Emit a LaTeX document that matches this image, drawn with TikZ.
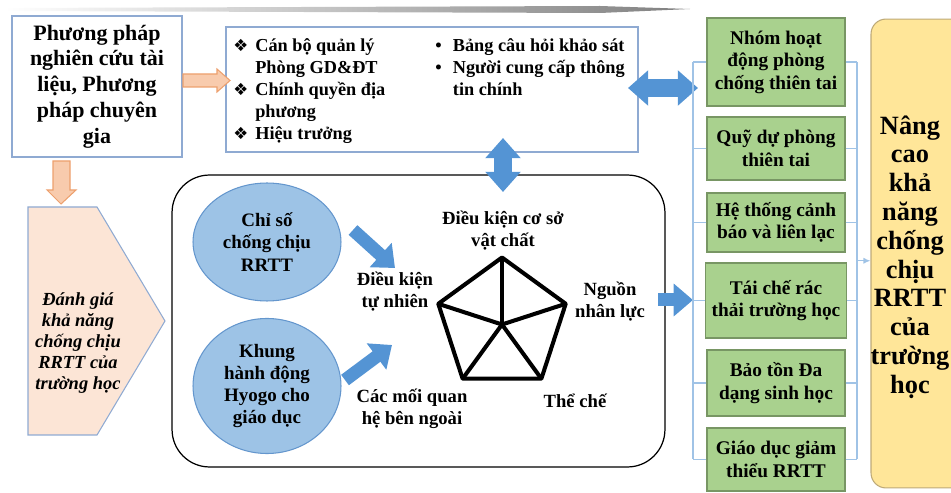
\documentclass[tikz,border=0pt]{standalone}
\usepackage{fontspec}
\setmainfont{Liberation Serif}
\newfontfamily\dejavu{DejaVu Sans}
\usetikzlibrary{
    calc,
    arrows.meta,
    shapes.geometric
}
\definecolor{boxline}{RGB}{143,170,210}
\definecolor{peach}{RGB}{248,203,173}
\definecolor{peachline}{RGB}{237,160,110}
\definecolor{peachlight}{RGB}{252,229,214}
\definecolor{ellfill}{RGB}{157,195,230}
\definecolor{ellline}{RGB}{100,150,205}
\definecolor{arrowblue}{RGB}{84,148,212}
\definecolor{greenfill}{RGB}{169,209,142}
\definecolor{greenline}{RGB}{120,150,100}
\definecolor{goalfill}{RGB}{255,230,153}
\definecolor{goalline}{RGB}{190,170,120}
\definecolor{bracketblue}{RGB}{160,195,230}
\newcommand\dbul{\makebox[12.5pt][l]{\dejavu\fontsize{9.5}{10}\selectfont ❖}}
\newcommand\rbul{\makebox[10pt][l]{\textbullet}}
\tikzset{
    plainbox/.style={draw=boxline, fill=white, line width=0.7pt, inner sep=2pt, align=center},
    orarrow/.style={draw=peachline, fill=peach, line width=0.6pt, line join=miter},
    blarrow/.style={draw=arrowblue, line width=7.4pt, -{Triangle[width=18pt,length=11pt]}},
    bldouble/.style={draw=arrowblue, line width=10.5pt,
        {Triangle[width=19.5pt,length=11.5pt]}-{Triangle[width=19.5pt,length=11.5pt]}}
}

\begin{document}
\begin{tikzpicture}[x=0.02cm, y=-0.02cm,
        ellbox/.style={ellipse, draw=ellline, fill=ellfill, line width=0.6pt, align=center,
            font=\fontsize{10.8}{12.6}\selectfont\bfseries},
        greenbox/.style={draw=greenline, fill=greenfill, line width=0.6pt, align=center,
            minimum width=2.76cm, font=\fontsize{11}{12.8}\selectfont\bfseries},
        pentlabel/.style={align=center, font=\fontsize{10.6}{12.5}\selectfont\bfseries},
        penta/.style={line width=2.3pt, line join=round},
        brline/.style={draw=bracketblue, line width=0.7pt}
    ]
    \clip (0,0) rectangle (951,493);
    % scan shadow on top
    \shade[left color=white, right color=black!50] (5,8) -- (600,6) -- (690,9) -- (600,13) -- (5,11) -- cycle;

    % methods and sources
    \node[plainbox, minimum width=3.4cm, minimum height=2.82cm,
        font=\fontsize{12.5}{14.7}\selectfont\bfseries] (method) at (97,86.5)
        {Phương pháp\\nghiên cứu tài\\liệu, Phương\\pháp chuyên\\gia};
    \node[plainbox, minimum width=8.24cm, minimum height=2.5cm] (info) at (432,89.5) {};
    \node[anchor=north west, align=left, inner sep=0pt,
        font=\fontsize{10.4}{12.5}\selectfont\bfseries] (infoL) at (233,38)
        {\dbul Cán bộ quản lý\\\hspace*{12.5pt}Phòng GD\&ĐT\\\dbul Chính quyền địa\\\hspace*{12.5pt}phương\\\dbul Hiệu trưởng};
    \node[anchor=north west, align=left, inner sep=0pt,
        font=\fontsize{10.4}{12.5}\selectfont\bfseries] (infoR) at (435,38)
        {\rbul Bảng câu hỏi khảo sát\\\rbul Người cung cấp thông\\\hspace*{10pt}tin chính};

    % orange block arrows
    \coordinate (oas) at (183,80.5);
    \coordinate (oae) at (230,80.5);
    \draw[orarrow] (oas) ++(0,-6.5) -- ++(34,0) -- ++(0,-5) -- (oae) -- ++(-13,11.5)
        -- ++(0,-5) -- ++(-34,0) -- cycle;
    \coordinate (ods) at (61,161);
    \coordinate (ode) at (61,204);
    \draw[orarrow] (ods) ++(-8,0) -- ++(0,29) -- ++(-6,0) -- (ode) -- ++(15,-14)
        -- ++(-6,0) -- ++(0,-29) -- cycle;

    % assessment
    \draw[draw=boxline, fill=peachlight, line width=0.6pt]
        (28,207) -- (97,207) -- (165,321) -- (97,435) -- (28,435) -- cycle;
    \node[align=center, font=\fontsize{10.5}{12}\selectfont\bfseries\itshape] (eval) at (78,343)
        {Đánh giá\\khả năng\\chống chịu\\RRTT của\\trường học};

    % framework
    \node[draw, line width=0.7pt, rounded corners=0.75cm, minimum width=9.86cm, minimum height=5.84cm]
        (frame) at (418.5,321) {};
    \node[ellbox, minimum width=2.96cm, minimum height=2.36cm] (chiso) at (267,242)
        {Chỉ số\\chống chịu\\RRTT};
    \node[ellbox, minimum width=2.96cm, minimum height=2.3cm] (hyogo) at (267,386)
        {Khung\\hành động\\Hyogo cho\\giáo dục};

    \coordinate (pc) at (502,324.5);
    \foreach \i/\a in {1/-90,2/-18,3/54,4/126,5/198} {
        \coordinate (p\i) at ($(pc)+(\a:67)$);
    }
    \draw[penta] (p1) -- (p2) -- (p3) -- (p4) -- (p5) -- cycle;
    \foreach \i in {1,...,5} {
        \draw[penta] (pc) -- (p\i);
    }
    \node[pentlabel] (csvc) at (503,231) {Điều kiện cơ sở\\vật chất};
    \node[pentlabel] (dktn) at (395,292) {Điều kiện\\tự nhiên};
    \node[pentlabel] (nnl) at (610,302) {Nguồn\\nhân lực};
    \node[pentlabel] (cmqh) at (412,409) {Các mối quan\\hệ bên ngoài};
    \node[pentlabel] (tche) at (575,401) {Thể chế};

    \coordinate (a1s) at (353,230);
    \coordinate (a1e) at (395,268);
    \draw[blarrow] (a1s) -- (a1e);
    \coordinate (a2s) at (345,380);
    \coordinate (a2e) at (392,345);
    \draw[blarrow] (a2s) -- (a2e);
    \coordinate (uds) at (503,138);
    \coordinate (ude) at (503,192);
    \draw[bldouble] (uds) -- (ude);
    \coordinate (lrs) at (628,88);
    \coordinate (lre) at (698,88);
    \draw[bldouble] (lrs) -- (lre);
    \coordinate (ras) at (658,300);
    \coordinate (rae) at (693,300);
    \draw[blarrow] (ras) -- (rae);

    % solutions
    \coordinate (spL) at (693,0);
    \coordinate (spR) at (857,0);
    \foreach \n/\y/\h/\t in {
        1/62/1.76/{Nhóm hoạt\\động phòng\\chống thiên tai},
        2/148.5/1.26/{Quỹ dự phòng\\thiên tai},
        3/222.5/1.18/{Hệ thống cảnh\\báo và liên lạc},
        4/300.5/1.5/{Tái chế rác\\thải trường học},
        5/383/1.32/{Bảo tồn Đa\\dạng sinh học},
        6/459.5/1.26/{Giáo dục giảm\\thiểu RRTT}} {
        \node[greenbox, minimum height=\h cm] (g\n) at (776,\y) {\t};
        \draw[brline] (g\n.west) -- (g\n.west -| spL);
        \draw[brline] (g\n.east) -- (g\n.east -| spR);
    }
    \draw[brline] (g1.west -| spL) -- (g6.west -| spL);
    \draw[brline] (g1.east -| spR) -- (g6.east -| spR);

    % goal
    \node[draw=goalline, fill=goalfill, line width=0.6pt, rounded corners=0.3cm,
        minimum width=2.08cm, minimum height=9.38cm] (goal) at (923,253.5) {};
    \node[align=center, font=\fontsize{15}{16.4}\selectfont\bfseries] (goaltxt) at (910,257)
        {Nâng\\cao\\khả\\năng\\chống\\chịu\\RRTT\\của\\trường\\học};
    \coordinate (spM) at ($(g1.east -| spR)!0.5!(g6.east -| spR)$);
    \draw[brline, -{Latex[length=4pt,width=3.5pt]}] (spM) -- (spM -| goal.west);

\end{tikzpicture}
\end{document}
